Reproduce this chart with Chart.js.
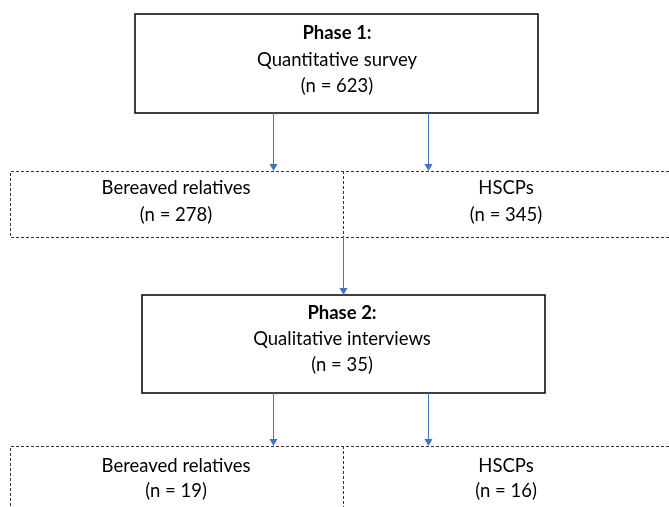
<!DOCTYPE html>
<html><head><meta charset="utf-8">
<script src="https://cdn.jsdelivr.net/npm/chart.js@4"></script>
<style>html,body{margin:0;padding:0;background:#fff}canvas{display:block}</style>
</head><body>
<canvas id="c" width="669" height="507"></canvas>
<script>
// Data
const phaseTitles = ["Phase 1:", "Phase 2:"];
const phaseMethods = ["Quantitative survey", "Qualitative interviews"];
const phaseTotals = [623, 35];
const groups = ["Bereaved relatives", "HSCPs"];
const groupCounts = [[278, 345], [19, 16]];

// Layout (pixel-space units on hidden linear scales)
const W = 669, H = 507;
const phaseBoxes = [{x0:135,x1:538,y0:14,y1:113,cx:337,ty:[33,60,86]},{x0:142,x1:545,y0:295,y1:393,cx:342,ty:[313,339,365]}];
const groupRows = [{x0:10,x1:669,y0:171,y1:237,div:343,ty:[188,215]},{x0:10,x1:669,y0:446,y1:520,div:343,ty:[466,491]}];
const groupCx = [176, 506];
const arrowXs = [273, 428];
const FONT = "Lato, 'Open Sans', sans-serif";
const FS = 18.5;

const flowPlugin = {
  id: 'flow',
  afterDraw(chart) {
    const ctx = chart.ctx, sx = chart.scales.x, sy = chart.scales.y;
    const X = v => sx.getPixelForValue(v), Y = v => sy.getPixelForValue(v);
    ctx.save();
    ctx.textAlign = 'center'; ctx.textBaseline = 'middle'; ctx.fillStyle = '#000';
    function arrow(x, ya, yb) {
      ctx.strokeStyle = '#4472C4'; ctx.fillStyle = '#4472C4'; ctx.lineWidth = 1; ctx.setLineDash([]);
      ctx.beginPath(); ctx.moveTo(X(x)+0.5, Y(ya)); ctx.lineTo(X(x)+0.5, Y(yb)-6); ctx.stroke();
      ctx.beginPath(); ctx.moveTo(X(x)-3.5, Y(yb)-7); ctx.lineTo(X(x)+4.5, Y(yb)-7); ctx.lineTo(X(x)+0.5, Y(yb)); ctx.closePath(); ctx.fill();
    }
    phaseBoxes.forEach((b, i) => {
      ctx.strokeStyle = '#000'; ctx.lineWidth = 1.5; ctx.setLineDash([]);
      ctx.strokeRect(X(b.x0), Y(b.y0), X(b.x1)-X(b.x0), Y(b.y1)-Y(b.y0));
      ctx.fillStyle = '#000';
      ctx.font = "bold " + FS + "px " + FONT; ctx.fillText(phaseTitles[i], X(b.cx), Y(b.ty[0]));
      ctx.font = FS + "px " + FONT; ctx.fillText(phaseMethods[i], X(b.cx), Y(b.ty[1]));
      ctx.fillText("(n = " + phaseTotals[i] + ")", X(b.cx), Y(b.ty[2]));
      const r = groupRows[i];
      arrowXs.forEach(ax => arrow(ax, b.y1, r.y0));
    });
    groupRows.forEach((r, i) => {
      ctx.strokeStyle = '#333'; ctx.lineWidth = 1; ctx.setLineDash([3, 2]);
      ctx.beginPath();
      ctx.moveTo(X(r.x1), Y(r.y0)+0.5); ctx.lineTo(X(r.x0)+0.5, Y(r.y0)+0.5);
      ctx.lineTo(X(r.x0)+0.5, Y(r.y1)+0.5); ctx.lineTo(X(r.x1), Y(r.y1)+0.5);
      ctx.moveTo(X(r.div)+0.5, Y(r.y0)); ctx.lineTo(X(r.div)+0.5, Y(r.y1));
      ctx.stroke(); ctx.setLineDash([]);
      ctx.fillStyle = '#000'; ctx.font = FS + "px " + FONT;
      groups.forEach((g, j) => {
        ctx.fillText(g, X(groupCx[j]), Y(r.ty[0]));
        ctx.fillText("(n = " + groupCounts[i][j] + ")", X(groupCx[j]), Y(r.ty[1]));
      });
    });
    arrow(343, groupRows[0].y1, phaseBoxes[1].y0);
    ctx.restore();
  }
};

new Chart(document.getElementById('c'), {
  type: 'scatter',
  data: { datasets: [{ data: [], showLine: false }] },
  options: {
    responsive: false, animation: false, devicePixelRatio: 1,
    layout: { padding: 0 },
    plugins: { legend: { display: false }, tooltip: { enabled: false } },
    scales: {
      x: { type: 'linear', min: 0, max: W, display: false },
      y: { type: 'linear', min: 0, max: H, reverse: true, display: false }
    }
  },
  plugins: [flowPlugin]
});
</script>
</body></html>
